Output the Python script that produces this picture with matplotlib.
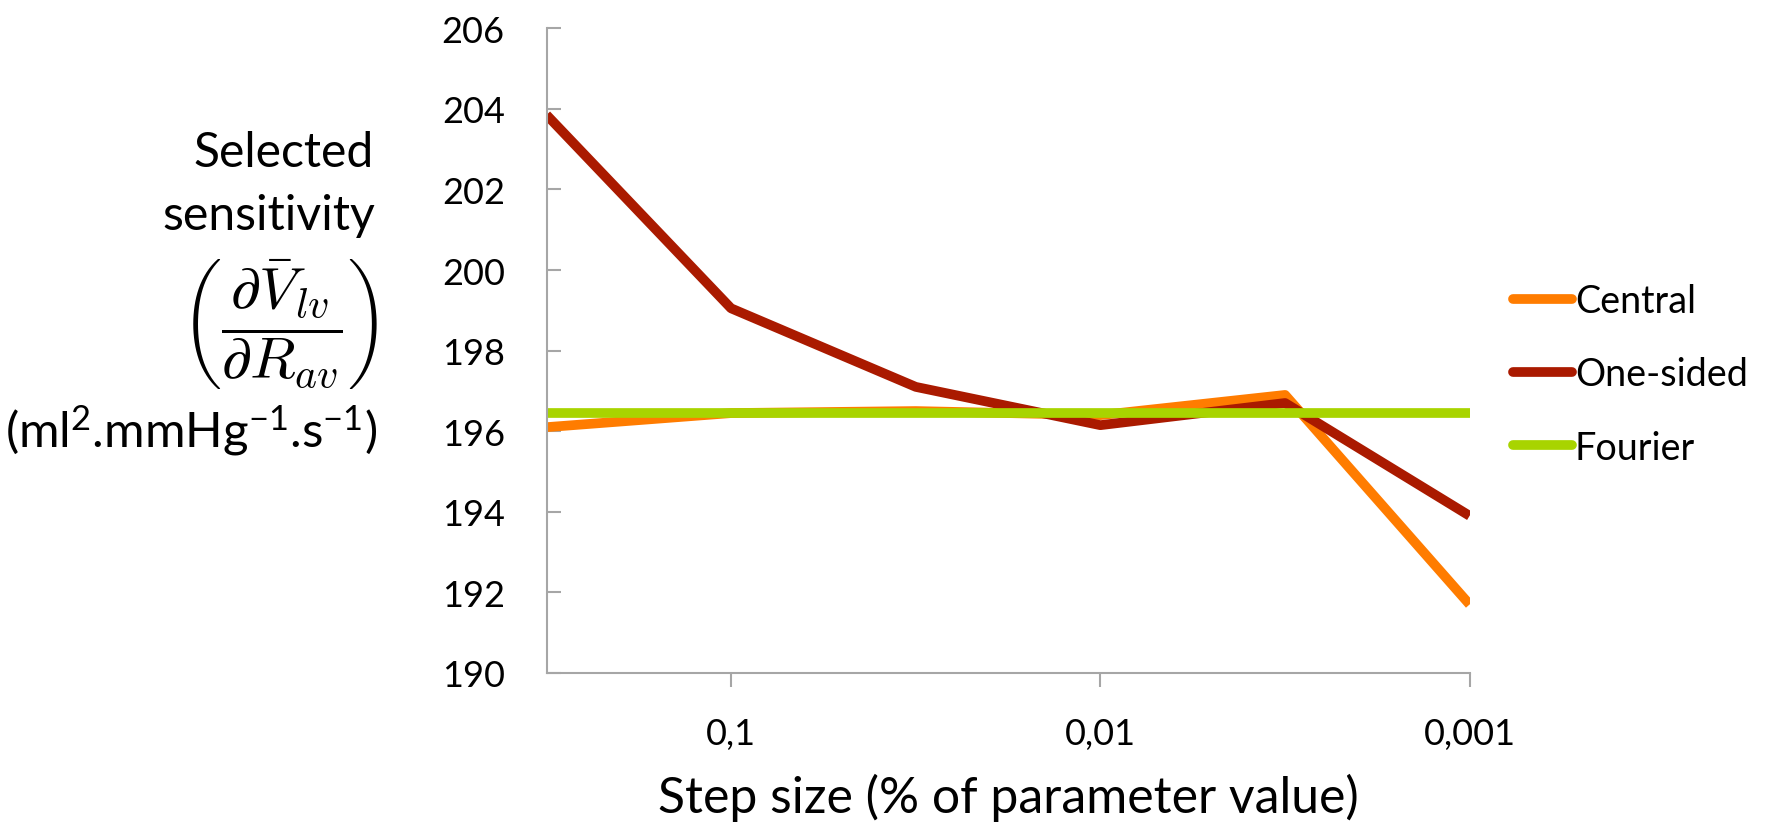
import matplotlib
matplotlib.use("Agg")
import matplotlib.pyplot as plt

# step sizes (% of parameter value), half-decade spacing
step_size = [0.316, 0.1, 0.0316, 0.01, 0.00316, 0.001]
central = [196.1, 196.45, 196.5, 196.4, 196.9, 191.7]
one_sided = [203.85, 199.05, 197.1, 196.15, 196.7, 193.9]
fourier = [196.45, 196.45, 196.45, 196.45, 196.45, 196.45]

xtick_vals = [0.1, 0.01, 0.001]
xtick_labels = ["0,1", "0,01", "0,001"]
ytick_vals = [190, 192, 194, 196, 198, 200, 202, 204, 206]

plt.rcParams['font.family'] = ['Lato', 'DejaVu Sans']
plt.rcParams['mathtext.fontset'] = 'custom'
plt.rcParams['mathtext.rm'] = 'Lato'
plt.rcParams['mathtext.it'] = 'Lato:italic'

W, H = 1767, 829
fig = plt.figure(figsize=(W / 100, H / 100), dpi=100)
ax = fig.add_axes([0.3093, 0.187, 0.5224, 0.7777])
renderer = fig.canvas.get_renderer()

lw = 7
ax.plot(step_size, central, color='#FF7C00', lw=lw, label='Central', solid_capstyle='butt')
ax.plot(step_size, one_sided, color='#AA1A00', lw=lw, label='One-sided', solid_capstyle='butt')
ax.plot(step_size, fourier, color='#A8D400', lw=lw, label='Fourier', solid_capstyle='butt')

ax.set_xscale('log')
ax.set_xlim(step_size[0], step_size[-1])
ax.set_ylim(190, 206)
ax.minorticks_off()
ax.set_xticks(xtick_vals)
ax.set_xticklabels(xtick_labels)
ax.set_yticks(ytick_vals)

for s in ['top', 'right']:
    ax.spines[s].set_visible(False)
for s in ['left', 'bottom']:
    ax.spines[s].set_color('#A6A6A6')
    ax.spines[s].set_linewidth(1.5)

ax.tick_params(axis='y', direction='in', length=10, width=1.5, color='#A6A6A6',
               labelsize=26, pad=30)
ax.tick_params(axis='x', direction='out', length=10, width=1.5, color='#A6A6A6',
               labelsize=26, pad=22)


def fit_text(x, y, s, width, **kw):
    # place text at pixel coords and scale its size to a target pixel width
    t = fig.text(x / W, 1 - y / H, s, fontsize=30, **kw)
    w = t.get_window_extent(renderer).width
    t.set_fontsize(30 * width / w)
    return t


# legend font sized so "One-sided" is ~173 px wide
probe = fig.text(0, 0, "One-sided", fontsize=30)
leg_fs = 30 * 173 / probe.get_window_extent(renderer).width
probe.remove()
leg_px = leg_fs * 100 / 72

leg = ax.legend(loc='center left', bbox_to_anchor=(1.047, 0.463), frameon=False,
                borderaxespad=0, borderpad=0, fontsize=leg_fs,
                handlelength=59 / leg_px, handletextpad=3 / leg_px, labelspacing=0.98)
for line in leg.get_lines():
    line.set_linewidth(7)
    line.set_solid_capstyle('round')

fit_text(1008, 813, "Step size (% of parameter value)", 700, ha='center', va='baseline')

fit_text(374, 167, "Selected", 180, ha='right', va='baseline')
fit_text(375, 230, "sensitivity", 213, ha='right', va='baseline')
fit_text(378, 324, r"$\left(\dfrac{\partial\bar{V}_{lv}}{\partial R_{av}}\right)$",
         200, ha='right', va='center', math_fontfamily='cm')
fit_text(377, 447,
         r"(ml$^{\mathregular{2}}$.mmHg$^{\mathregular{-1}}$.s$^{\mathregular{-1}}$)",
         372, ha='right', va='baseline')

fig.savefig('out.png', dpi=100)
